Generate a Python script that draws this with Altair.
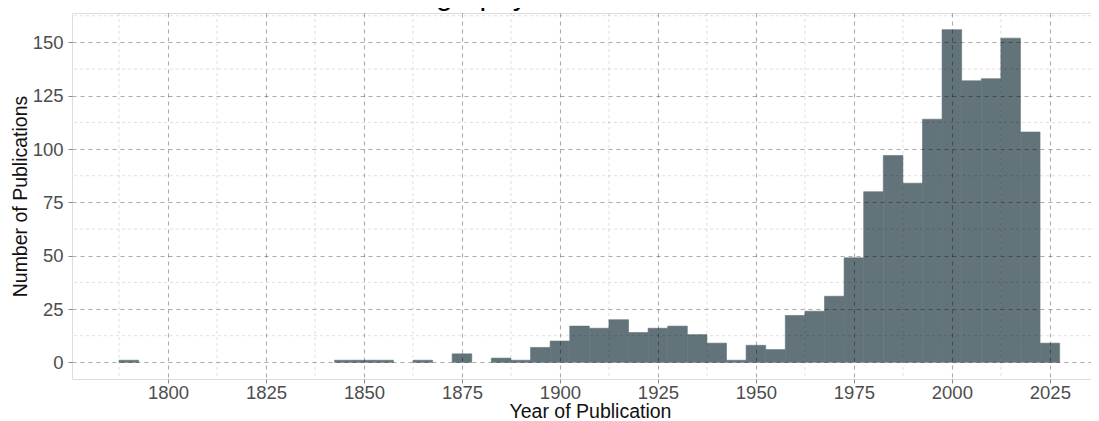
import altair as alt
import pandas as pd

# ---- data ----
bin_centers = [1790, 1795, 1800, 1805, 1810, 1815, 1820, 1825, 1830, 1835,
               1840, 1845, 1850, 1855, 1860, 1865, 1870, 1875, 1880, 1885,
               1890, 1895, 1900, 1905, 1910, 1915, 1920, 1925, 1930, 1935,
               1940, 1945, 1950, 1955, 1960, 1965, 1970, 1975, 1980, 1985,
               1990, 1995, 2000, 2005, 2010, 2015, 2020, 2025]
counts = [1, 0, 0, 0, 0, 0, 0, 0, 0, 0,
          0, 1, 1, 1, 0, 1, 0, 4, 0, 2,
          1, 7, 10, 17, 16, 20, 14, 16, 17, 13,
          9, 1, 8, 6, 22, 24, 31, 49, 80, 97,
          84, 114, 156, 132, 133, 152, 108, 9]
bin_width = 5

x_major = [1800, 1825, 1850, 1875, 1900, 1925, 1950, 1975, 2000, 2025]
x_minor = [1787.5, 1812.5, 1837.5, 1862.5, 1887.5, 1912.5, 1937.5, 1962.5,
           1987.5, 2012.5]
y_major = [0, 25, 50, 75, 100, 125, 150]
y_minor = [12.5, 37.5, 62.5, 87.5, 112.5, 137.5, 162.5]

title_text = "Bibliography of Publications"

FONT = "Liberation Sans"
BAR = "#627379"

df = pd.DataFrame({
    "start": [c - bin_width / 2 for c in bin_centers],
    "end": [c + bin_width / 2 for c in bin_centers],
    "count": counts,
})
df = df[df["count"] > 0]
df_xminor = pd.DataFrame({"start": x_minor})
df_yminor = pd.DataFrame({"count": y_minor})

xscale = alt.Scale(domain=[1775.5, 2035.5], nice=False, zero=False)
yscale = alt.Scale(domain=[-7.8, 163.8], nice=False, zero=False)

xaxis = alt.Axis(
    values=x_major, format="d", title="Year of Publication",
    grid=True, gridColor="#000000", gridOpacity=0.33, gridDash=[4, 4],
    gridWidth=1.1, zindex=1,
    domain=False, ticks=True, tickSize=4, tickColor="#8a8a8a",
    labelFont=FONT, labelFontSize=18.5, labelColor="#4d4d4d",
    labelPadding=0.5,
    titleFont=FONT, titleFontSize=19.5, titleColor="#111111",
    titleFontWeight="normal", titleX=518, titleY=23,
    titleBaseline="top", titleAlign="center",
)
yaxis = alt.Axis(
    values=y_major, title="Number of Publications",
    grid=True, gridColor="#000000", gridOpacity=0.33, gridDash=[4, 4],
    gridWidth=1.1, zindex=1,
    domain=False, ticks=True, tickSize=4, tickColor="#8a8a8a",
    labelFont=FONT, labelFontSize=18.5, labelColor="#4d4d4d",
    labelPadding=5,
    titleFont=FONT, titleFontSize=19.5, titleColor="#111111",
    titleFontWeight="normal", titlePadding=2,
)

bars = alt.Chart(df).mark_bar(
    color=BAR, stroke=BAR, strokeWidth=0.6, opacity=1
).encode(
    x=alt.X("start:Q", scale=xscale, axis=xaxis),
    x2="end:Q",
    y=alt.Y("count:Q", scale=yscale, axis=yaxis),
    y2=alt.datum(0),
)

minor_x = alt.Chart(df_xminor).mark_rule(
    color="#000000", opacity=0.13, strokeWidth=1, strokeDash=[3, 3]
).encode(x=alt.X("start:Q", scale=xscale, axis=xaxis))

minor_y = alt.Chart(df_yminor).mark_rule(
    color="#000000", opacity=0.13, strokeWidth=1, strokeDash=[3, 3]
).encode(y=alt.Y("count:Q", scale=yscale, axis=yaxis))

chart = alt.layer(bars, minor_x, minor_y).properties(
    width=1019,
    height=366,
    title=alt.TitleParams(
        text=title_text, font=FONT, fontSize=30, fontWeight="normal",
        color="#000000", anchor="middle", offset=2, dx=-34.5,
    ),
    autosize=alt.AutoSizeParams(type="none"),
    padding={"left": 64, "right": 0, "top": 5, "bottom": 42},
).configure_view(strokeWidth=0).configure(background="white")

chart.save("out.html", embed_options={"renderer": "svg", "actions": False})
